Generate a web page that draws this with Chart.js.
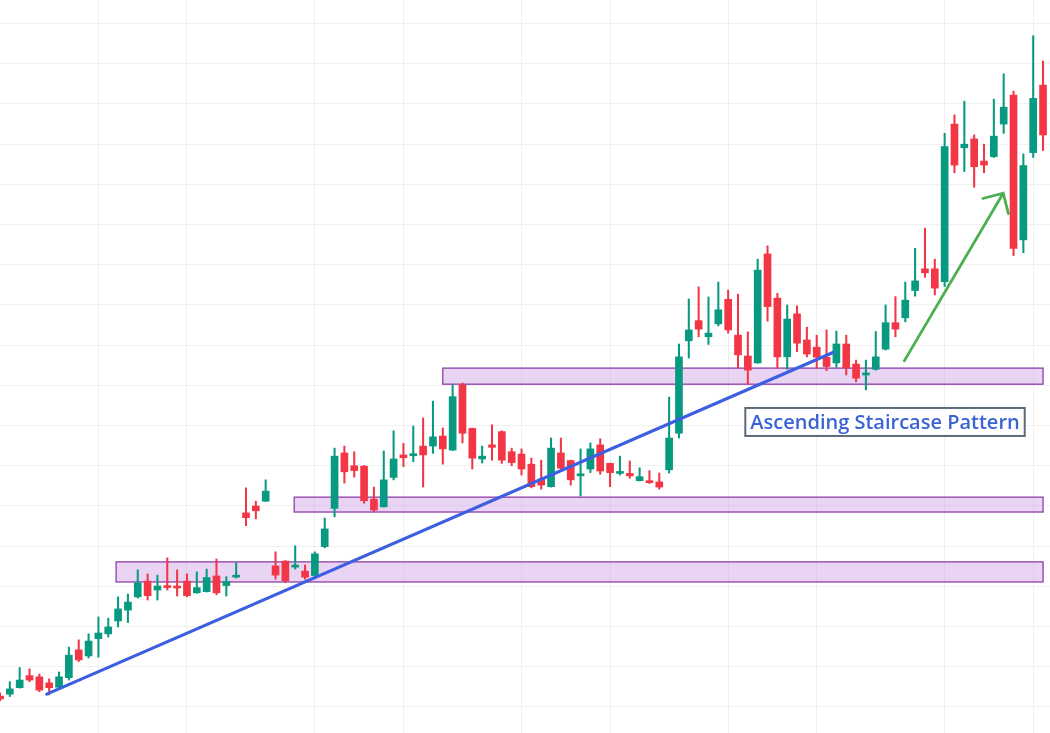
<!DOCTYPE html>
<html><head><meta charset="utf-8">
<script src="https://cdn.jsdelivr.net/npm/chart.js@4.4.0/dist/chart.umd.min.js"></script>
<style>html,body{margin:0;padding:0;background:#fff;overflow:hidden}#wrap{width:1050px;height:733px;position:relative}</style>
</head><body><div id="wrap"><canvas id="c"></canvas></div>
<script>
const opens = [12.7,13.2,14.8,17.8,17.5,16.0,14.9,17.3,24.2,22.7,
27.0,28.2,31.4,34.1,37.4,41.3,39.1,40.1,40.1,41.3,
38.4,38.7,42.6,40.2,42.3,58.3,60.0,61.2,45.1,46.3,
44.8,43.8,42.7,49.9,59.4,73.2,70.0,69.9,61.7,59.8,
67.1,72.7,72.5,74.9,74.9,77.4,73.9,90.1,79.3,71.7,
75.2,78.5,73.5,72.9,70.4,66.7,64.8,73.2,71.3,67.5,
69.2,75.2,70.6,68.1,68.1,66.3,66.3,66.0,69.0,78.1,
101.1,106.1,102.1,105.3,111.4,102.5,97.3,95.6,122.7,111.7,
97.1,107.8,101.3,99.5,97.0,95.6,100.3,95.3,92.6,94.0,
99.0,105.6,106.8,113.6,119.0,119.0,115.8,155.0,149.1,151.3,
145.8,146.9,155.0,162.2,126.2,147.9,164.7];
const highs = [13.5,16.3,19.8,19.5,18.2,17.0,18.7,24.9,26.7,28.2,
32.4,32.1,37.4,38.1,44.1,43.1,42.8,47.1,44.1,43.1,
43.6,44.3,46.8,42.4,45.9,64.5,61.2,66.5,48.6,46.4,
50.1,45.3,48.6,57.0,74.4,74.9,73.5,70.1,64.7,73.7,
78.7,75.6,79.9,81.9,86.1,79.4,90.1,90.6,79.4,74.9,
80.2,78.7,74.4,74.2,71.9,71.4,76.9,76.9,71.4,74.2,
75.7,76.7,70.7,72.4,71.2,69.5,68.8,68.2,87.1,100.3,
111.5,114.5,112.0,115.7,113.7,112.7,103.3,121.4,124.7,112.9,
110.0,109.8,104.5,102.5,103.8,103.5,102.5,96.3,96.3,103.4,
110.0,112.1,115.7,124.1,129.1,121.4,152.7,157.3,160.7,152.3,
150.0,161.2,167.5,163.2,147.6,177.0,170.7];
const lows = [11.5,12.6,14.7,16.3,13.8,13.0,14.7,16.7,21.3,22.2,
22.4,27.4,29.9,31.0,37.1,36.6,36.6,39.1,37.6,37.4,
38.3,38.6,37.9,37.6,42.1,55.1,56.8,61.1,41.8,40.9,
44.3,41.8,42.4,49.6,57.3,65.7,67.2,60.7,58.5,59.7,
66.5,69.8,71.0,64.7,73.1,70.4,73.8,75.7,69.2,70.7,
71.4,70.6,70.0,67.7,64.5,64.2,64.7,69.2,65.2,62.5,
68.3,67.9,64.8,67.7,66.9,66.2,65.6,64.2,68.2,76.9,
96.8,102.1,100.2,104.8,103.0,94.4,90.3,95.5,106.0,94.3,
94.0,98.4,97.1,94.3,93.7,94.5,92.6,90.9,88.9,93.8,
98.8,102.1,105.8,112.2,116.9,112.5,114.6,142.9,143.2,139.3,
142.9,146.7,152.7,122.3,123.0,146.7,148.4];
const closes = [12.0,14.5,16.7,16.7,14.2,14.8,17.5,22.9,21.7,26.4,
28.4,29.9,34.4,36.1,40.9,37.7,40.1,39.7,39.6,37.7,
39.7,42.2,38.4,41.2,42.7,57.1,58.8,63.7,42.8,41.4,
45.1,42.3,48.1,54.3,72.4,68.5,68.8,61.3,59.0,66.5,
71.7,72.0,72.9,72.7,77.2,74.2,87.2,78.1,71.9,72.4,
74.6,71.4,70.8,69.2,64.8,65.2,74.4,69.4,66.5,67.7,
74.2,68.7,68.3,68.5,67.5,67.3,65.8,64.7,76.9,97.1,
103.8,104.0,103.0,108.8,103.8,97.6,93.8,118.7,109.6,97.1,
106.5,100.5,97.8,97.0,94.7,100.3,94.4,91.8,93.0,97.1,
105.6,104.0,111.2,116.0,118.0,114.2,149.4,144.8,150.0,144.4,
144.8,152.0,159.2,124.1,144.7,161.4,152.3];
const candleIdx = opens.map((_, i) => i);
const xGridTicks = [10,19,32,41,53,62,74,83,96,105];
const yGridTicks = [10,20,30,40,50,60,70,80,90,100,110,120,130,140,150,160,170,180];

const zones = [
  {from: 11.8, to: 106.0, low: 41.1, high: 46.1},
  {from: 29.9, to: 106.0, low: 58.5, high: 62.2},
  {from: 45.0, to: 106.0, low: 90.3, high: 94.3}
];
const trendLine = {x0: 4.75, y0: 13.2, x1: 84.65, y1: 98.2};
const arrowLine = {x0: 91.9, y0: 96.1, x1: 101.95, y1: 137.8};
const labelBox = {text: 'Ascending Staircase Pattern', x: 89.94, y: 80.9};

const UP = '#089981', DOWN = '#f23645';
const colors = candleIdx.map(i => closes[i] >= opens[i] ? UP : DOWN);

const annot = {
  id: 'annot',
  beforeDatasetsDraw(chart) {
    const {ctx, scales: {x, y}} = chart;
    ctx.save();
    zones.forEach(z => {
      const l = x.getPixelForValue(z.from), r = x.getPixelForValue(z.to);
      const t = y.getPixelForValue(z.high), b = y.getPixelForValue(z.low);
      ctx.fillStyle = 'rgba(196,136,222,0.36)';
      ctx.fillRect(l, t, r - l, b - t);
      ctx.strokeStyle = '#8e3fa6';
      ctx.lineWidth = 1.3;
      ctx.strokeRect(l, t, r - l, b - t);
    });
    ctx.restore();
  },
  afterDatasetsDraw(chart) {
    const {ctx, scales: {x, y}} = chart;
    ctx.save();
    ctx.lineCap = 'round';
    ctx.strokeStyle = '#3b5fe0';
    ctx.lineWidth = 3.2;
    ctx.beginPath();
    ctx.moveTo(x.getPixelForValue(trendLine.x0), y.getPixelForValue(trendLine.y0));
    ctx.lineTo(x.getPixelForValue(trendLine.x1), y.getPixelForValue(trendLine.y1));
    ctx.stroke();

    const ax0 = x.getPixelForValue(arrowLine.x0), ay0 = y.getPixelForValue(arrowLine.y0);
    const ax1 = x.getPixelForValue(arrowLine.x1), ay1 = y.getPixelForValue(arrowLine.y1);
    ctx.strokeStyle = '#4caf50';
    ctx.lineWidth = 2.8;
    ctx.beginPath();
    ctx.moveTo(ax0, ay0); ctx.lineTo(ax1, ay1);
    const ang = Math.atan2(ay0 - ay1, ax0 - ax1);
    const hl = 21, sp = Math.PI / 4;
    ctx.moveTo(ax1 + hl * Math.cos(ang + sp), ay1 + hl * Math.sin(ang + sp));
    ctx.lineTo(ax1, ay1);
    ctx.lineTo(ax1 + hl * Math.cos(ang - sp), ay1 + hl * Math.sin(ang - sp));
    ctx.stroke();

    ctx.font = '600 20px "Open Sans"';
    const tw = ctx.measureText(labelBox.text).width;
    const cx = x.getPixelForValue(labelBox.x), cy = y.getPixelForValue(labelBox.y);
    const bw = tw + 10, bh = 28;
    ctx.fillStyle = '#ffffff';
    ctx.fillRect(cx - bw / 2, cy - bh / 2, bw, bh);
    ctx.strokeStyle = '#5e6b78';
    ctx.lineWidth = 2;
    ctx.strokeRect(cx - bw / 2, cy - bh / 2, bw, bh);
    ctx.fillStyle = '#3b63d6';
    ctx.textAlign = 'center';
    ctx.textBaseline = 'middle';
    ctx.fillText(labelBox.text, cx, cy + 1);
    ctx.restore();
  }
};

new Chart(document.getElementById('c'), {
  type: 'bar',
  data: {
    datasets: [
      {
        label: 'wick',
        data: candleIdx.map(i => ({x: i, y: [lows[i], highs[i]]})),
        backgroundColor: colors,
        barThickness: 1.4,
        grouped: false,
        order: 2
      },
      {
        label: 'body',
        data: candleIdx.map(i => ({x: i, y: [Math.min(opens[i], closes[i]), Math.max(opens[i], closes[i])]})),
        backgroundColor: colors,
        barThickness: 7,
        minBarLength: 2,
        grouped: false,
        order: 1
      }
    ]
  },
  options: {
    responsive: true,
    maintainAspectRatio: false,
    animation: false,
    layout: {padding: 0},
    plugins: {legend: {display: false}, tooltip: {enabled: false}},
    events: [],
    scales: {
      x: {
        type: 'linear',
        min: 0,
        max: 106.707,
        offset: false,
        grid: {color: 'rgba(0,0,0,0.055)', drawTicks: false, offset: false},
        border: {display: false},
        ticks: {display: false},
        afterBuildTicks: s => { s.ticks = xGridTicks.map(v => ({value: v})); }
      },
      y: {
        min: 3.53,
        max: 185.87,
        grid: {color: 'rgba(0,0,0,0.055)', drawTicks: false},
        border: {display: false},
        ticks: {display: false},
        afterBuildTicks: s => { s.ticks = yGridTicks.map(v => ({value: v})); }
      }
    }
  },
  plugins: [annot]
});
</script>
</body></html>
